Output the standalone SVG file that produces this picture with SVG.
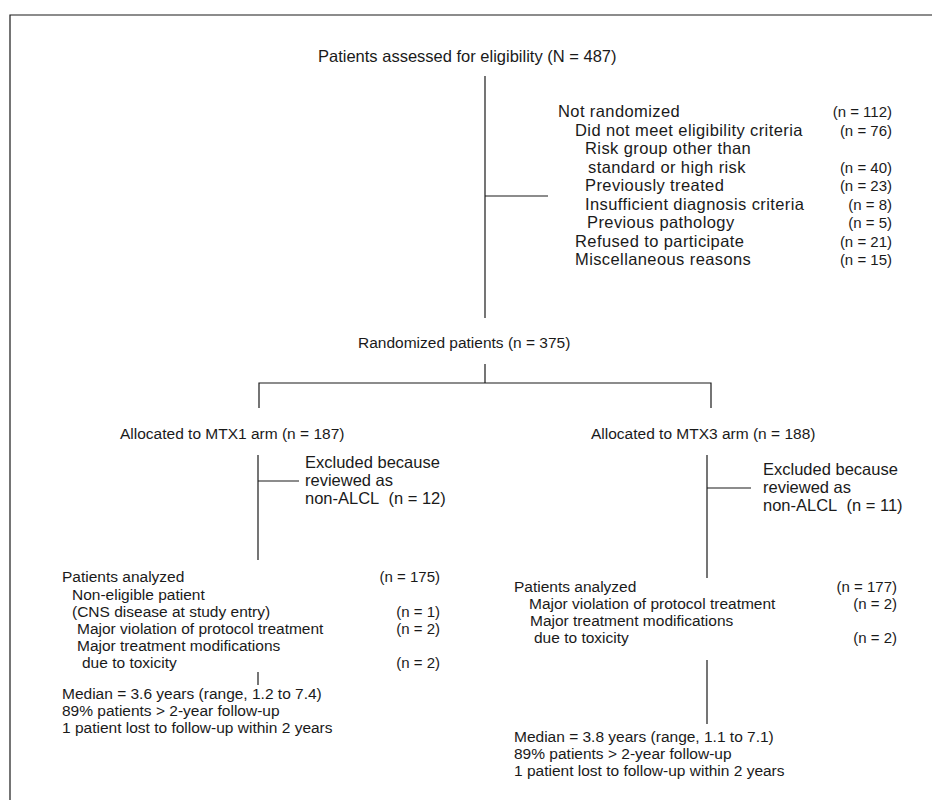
<svg xmlns="http://www.w3.org/2000/svg" width="932" height="806" viewBox="0 0 932 806">
<style>
text{font-family:"Liberation Sans",Arial,sans-serif;font-size:15.5px;fill:#1a1a1a}
.big{font-size:16.5px}
.top{font-size:16.5px;letter-spacing:0.4px}
.n{font-size:15px;text-anchor:end}
line,polyline{stroke:#1a1a1a;stroke-width:1.2;fill:none}
</style>
<rect width="932" height="806" fill="#ffffff"/>
<g id="frame"><polyline points="10,800 10,15 932,15"/></g>
<g id="connectors">
<line x1="485" y1="76" x2="485" y2="318"/>
<line x1="485" y1="196" x2="548" y2="196"/>
<line x1="485" y1="364" x2="485" y2="383"/>
<polyline points="259,408 259,383 711,383 711,408"/>
<line x1="258" y1="455" x2="258" y2="560"/>
<line x1="258" y1="481" x2="299" y2="481"/>
<line x1="707" y1="455" x2="707" y2="578"/>
<line x1="707" y1="488" x2="751" y2="488"/>
<line x1="258" y1="672" x2="258" y2="685"/>
<line x1="707" y1="660" x2="707" y2="724"/>
</g>
<g id="n-assessed"><text class="big" x="318" y="62">Patients assessed for eligibility (N = 487)</text></g>
<g id="n-notrandomized">
<text class="top" x="558" y="117">Not randomized</text><text class="n" x="892" y="117">(n = 112)</text>
<text class="top" x="575" y="135.5">Did not meet eligibility criteria</text><text class="n" x="892" y="135.5">(n = 76)</text>
<text class="top" x="585" y="154">Risk group other than</text>
<text class="top" x="588" y="172.5">standard or high risk</text><text class="n" x="892" y="172.5">(n = 40)</text>
<text class="top" x="585" y="191">Previously treated</text><text class="n" x="892" y="191">(n = 23)</text>
<text class="top" x="585" y="209.5">Insufficient diagnosis criteria</text><text class="n" x="892" y="209.5">(n = 8)</text>
<text class="top" x="587" y="228">Previous pathology</text><text class="n" x="892" y="228">(n = 5)</text>
<text class="top" x="575" y="246.5">Refused to participate</text><text class="n" x="892" y="246.5">(n = 21)</text>
<text class="top" x="575" y="265">Miscellaneous reasons</text><text class="n" x="892" y="265">(n = 15)</text>
</g>
<g id="n-randomized"><text x="358" y="348">Randomized patients (n = 375)</text></g>
<g id="n-mtx1"><text x="120" y="439">Allocated to MTX1 arm (n = 187)</text></g>
<g id="n-mtx3"><text x="591" y="439">Allocated to MTX3 arm (n = 188)</text></g>
<g id="n-excl1">
<text class="big" x="305" y="468">Excluded because</text>
<text class="big" x="305" y="486">reviewed as</text>
<text class="big" x="305" y="504">non-ALCL&#160;&#160;(n = 12)</text>
</g>
<g id="n-excl3">
<text class="big" x="763" y="475">Excluded because</text>
<text class="big" x="763" y="493">reviewed as</text>
<text class="big" x="763" y="511">non-ALCL&#160;&#160;(n = 11)</text>
</g>
<g id="n-analyzed1">
<text x="62" y="582">Patients analyzed</text><text class="n" x="440" y="582">(n = 175)</text>
<text x="72" y="600">Non-eligible patient</text>
<text x="72" y="617">(CNS disease at study entry)</text><text class="n" x="440" y="617">(n = 1)</text>
<text x="77" y="634">Major violation of protocol treatment</text><text class="n" x="440" y="634">(n = 2)</text>
<text x="77" y="651">Major treatment modifications</text>
<text x="82" y="668">due to toxicity</text><text class="n" x="440" y="668">(n = 2)</text>
</g>
<g id="n-analyzed3">
<text x="514" y="592">Patients analyzed</text><text class="n" x="897" y="592">(n = 177)</text>
<text x="529" y="609">Major violation of protocol treatment</text><text class="n" x="897" y="609">(n = 2)</text>
<text x="530" y="626">Major treatment modifications</text>
<text x="534" y="643">due to toxicity</text><text class="n" x="897" y="643">(n = 2)</text>
</g>
<g id="n-follow1">
<text x="62" y="699">Median = 3.6 years (range, 1.2 to 7.4)</text>
<text x="62" y="716">89% patients &gt; 2-year follow-up</text>
<text x="62" y="733">1 patient lost to follow-up within 2 years</text>
</g>
<g id="n-follow3">
<text x="514" y="742">Median = 3.8 years (range, 1.1 to 7.1)</text>
<text x="514" y="759">89% patients &gt; 2-year follow-up</text>
<text x="514" y="776">1 patient lost to follow-up within 2 years</text>
</g>
</svg>
